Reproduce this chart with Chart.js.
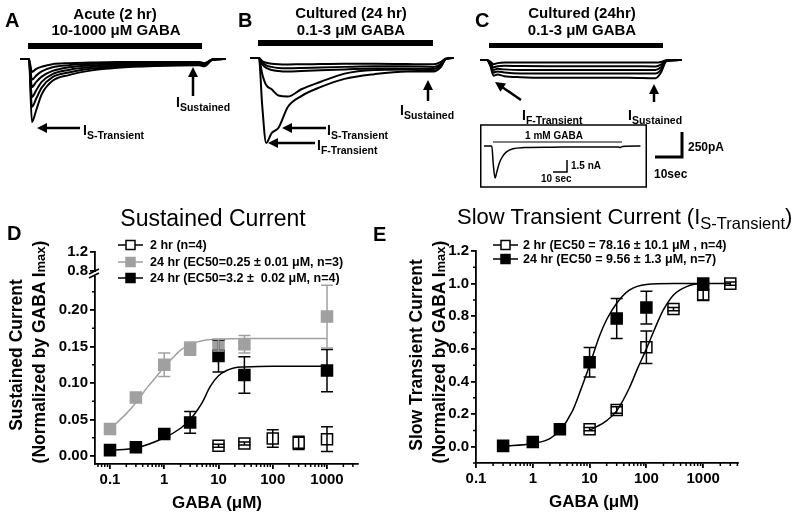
<!DOCTYPE html>
<html>
<head>
<meta charset="utf-8">
<script src="https://cdn.jsdelivr.net/npm/chart.js@4.4.0/dist/chart.umd.min.js"></script>
<style>
body { margin: 0; background: #fff; }
#fig { position: relative; width: 800px; height: 518px; overflow: hidden; background: #fff;
       font-family: "Liberation Sans", Arial, sans-serif; color: #000; }
#fig canvas, #fig svg { position: absolute; }
.t { position: absolute; white-space: pre; line-height: 1; font-weight: bold; }
.c { transform: translate(-50%, -50%); }
.l { transform: translateY(-50%); }
.v { transform: translate(-50%, -50%) rotate(-90deg); }
.lab { font-size: 14px; }
.lab sub { font-size: 10.5px; vertical-align: -4px; }
</style>
</head>
<body>
<div id="fig">
  <canvas id="trA" width="206" height="80" style="left:20px;top:50px"></canvas>
  <canvas id="trB" width="204" height="100" style="left:250px;top:50px"></canvas>
  <canvas id="trC" width="202" height="40" style="left:480px;top:50px"></canvas>
  <canvas id="trInset" width="160" height="45" style="left:482px;top:138px"></canvas>
  <canvas id="chartD" width="375" height="278" style="left:0px;top:240px"></canvas>
  <canvas id="chartE" width="400" height="283" style="left:400px;top:235px"></canvas>

  <svg width="800" height="518" style="left:0;top:0">
    <!-- drug application bars -->
    <rect x="28" y="43" width="174" height="6" fill="#000"/>
    <rect x="258" y="40" width="175" height="6" fill="#000"/>
    <rect x="489" y="43" width="174" height="5" fill="#000"/>
    <g stroke="#000" stroke-width="2.5" fill="none">
      <line x1="46" y1="128" x2="80" y2="128"/>
      <line x1="193" y1="76" x2="193" y2="96"/>
      <line x1="291" y1="128" x2="326" y2="128"/>
      <line x1="277" y1="143" x2="315" y2="143"/>
      <line x1="428" y1="89" x2="428" y2="101"/>
      <line x1="502" y1="87" x2="521" y2="100"/>
      <line x1="654" y1="93" x2="654" y2="102"/>
    </g>
    <g fill="#000">
      <polygon points="37,128 47,123 47,133"/>
      <polygon points="193,67 188,77 198,77"/>
      <polygon points="282,128 292,123 292,133"/>
      <polygon points="268,143 278,138 278,148"/>
      <polygon points="428,80 423,90 433,90"/>
      <polygon points="495,82 506.1,83.6 500.4,91.8"/>
      <polygon points="654,84 649,94 659,94"/>
    </g>
    <!-- scale bars and inset -->
    <polyline points="655,157 682,157 682,132" stroke="#000" stroke-width="3" fill="none"/>
    <rect x="480.75" y="125" width="165.5" height="62" stroke="#000" stroke-width="1.5" fill="none"/>
    <line x1="493" y1="142" x2="622" y2="142" stroke="#000" stroke-width="1.2"/>
    <polyline points="553,172 567,172 567,160" stroke="#000" stroke-width="1.5" fill="none"/>
    <!-- legend icons -->
    <line x1="118" y1="245" x2="143" y2="245" stroke="#000" stroke-width="1.5"/>
    <rect x="126" y="240.5" width="9" height="9" fill="#fff" stroke="#000" stroke-width="1.5"/>
    <line x1="118" y1="262" x2="143" y2="262" stroke="#a0a0a0" stroke-width="1.5"/>
    <rect x="126" y="257.5" width="9" height="9" fill="#a0a0a0" stroke="#a0a0a0" stroke-width="1.5"/>
    <line x1="118" y1="278" x2="143" y2="278" stroke="#000" stroke-width="1.5"/>
    <rect x="126" y="273.5" width="9" height="9" fill="#000" stroke="#000" stroke-width="1.5"/>
    <line x1="493" y1="245" x2="518" y2="245" stroke="#000" stroke-width="1.5"/>
    <rect x="501" y="240.5" width="9" height="9" fill="#fff" stroke="#000" stroke-width="1.5"/>
    <line x1="493" y1="259" x2="518" y2="259" stroke="#000" stroke-width="1.5"/>
    <rect x="501" y="254.5" width="9" height="9" fill="#000" stroke="#000" stroke-width="1.5"/>
  </svg>

  <!-- top panels text -->
  <div class="t l" style="left:5px;top:20px;font-size:20px">A</div>
  <div class="t l" style="left:238px;top:20px;font-size:20px">B</div>
  <div class="t l" style="left:475px;top:20px;font-size:20px">C</div>
  <div class="t c" style="left:115px;top:12.5px;font-size:15px">Acute (2 hr)</div>
  <div class="t c" style="left:116px;top:29px;font-size:15px">10-1000 μM GABA</div>
  <div class="t c" style="left:351px;top:12px;font-size:15px">Cultured (24 hr)</div>
  <div class="t c" style="left:351px;top:29px;font-size:15px">0.1-3 μM GABA</div>
  <div class="t c" style="left:582px;top:12px;font-size:15px">Cultured (24hr)</div>
  <div class="t c" style="left:582px;top:29px;font-size:15px">0.1-3 μM GABA</div>

  <div class="t lab" style="left:83px;top:123px">I<sub>S-Transient</sub></div>
  <div class="t lab" style="left:176px;top:95px">I<sub>Sustained</sub></div>
  <div class="t lab" style="left:327px;top:123px">I<sub>S-Transient</sub></div>
  <div class="t lab" style="left:317px;top:138px">I<sub>F-Transient</sub></div>
  <div class="t lab" style="left:400px;top:103px">I<sub>Sustained</sub></div>
  <div class="t lab" style="left:522px;top:108px">I<sub>F-Transient</sub></div>
  <div class="t lab" style="left:628px;top:108px">I<sub>Sustained</sub></div>

  <div class="t l" style="left:688px;top:147px;font-size:12px">250pA</div>
  <div class="t l" style="left:654px;top:174px;font-size:12px">10sec</div>
  <div class="t c" style="left:554px;top:136px;font-size:10px">1 mM GABA</div>
  <div class="t l" style="left:571px;top:165.5px;font-size:10px">1.5 nA</div>
  <div class="t l" style="left:541px;top:179px;font-size:10px">10 sec</div>

  <!-- bottom panels text -->
  <div class="t l" style="left:7px;top:233px;font-size:20px">D</div>
  <div class="t l" style="left:373px;top:234px;font-size:20px">E</div>
  <div class="t c" style="left:213px;top:218px;font-size:23px;font-weight:normal">Sustained Current</div>
  <div class="t l" style="left:457px;top:219px;font-size:22px;font-weight:normal">Slow Transient Current (I<sub style="font-size:0.75em;vertical-align:-0.3em">S-Transient</sub>)</div>

  <div class="t v" style="left:17px;top:355px;font-size:17.5px">Sustained Current</div>
  <div class="t v" style="left:40px;top:352px;font-size:17.5px">(Normalized by GABA I<span style="font-size:13px">max</span>)</div>
  <div class="t v" style="left:417px;top:355px;font-size:17.5px">Slow Transient Current</div>
  <div class="t v" style="left:440px;top:352px;font-size:17.5px">(Normalized by GABA I<span style="font-size:13px">max</span>)</div>
  <div class="t c" style="left:217px;top:502px;font-size:17px">GABA (μM)</div>
  <div class="t c" style="left:594px;top:501px;font-size:17px">GABA (μM)</div>

  <div class="t l" style="left:150px;top:245px;font-size:12.5px">2 hr (n=4)</div>
  <div class="t l" style="left:150px;top:262px;font-size:12.5px">24 hr (EC50=0.25 ± 0.01 μM, n=3)</div>
  <div class="t l" style="left:150px;top:278px;font-size:12.5px">24 hr (EC50=3.2 ±  0.02 μM, n=4)</div>
  <div class="t l" style="left:523px;top:245px;font-size:12.5px">2 hr (EC50 = 78.16 ± 10.1 μM , n=4)</div>
  <div class="t l" style="left:523px;top:259px;font-size:12.5px">24 hr (EC50 = 9.56 ± 1.3 μM, n=7)</div>
</div>

<script>
const FONT = '"Liberation Sans", Arial, sans-serif';
const GRAY = "#a0a0a0";

const tA = [0, 3.3, 4.4, 6, 8, 12, 18, 26, 36, 50, 66, 68, 71, 76];
const traceA1 = [0, 0, -125, -95, -75, -50, -40, -35, -30, -28, -28, -40, -5, 0];
const traceA2 = [0, 0, -200, -160, -120, -80, -60, -48, -40, -35, -33, -45, -5, 0];
const traceA3 = [0, 0, -270, -220, -170, -115, -80, -62, -50, -42, -38, -50, -6, 0];
const traceA4 = [0, 0, -365, -300, -220, -145, -105, -78, -62, -50, -45, -55, -6, 0];
const traceA5 = [0, 0, -460, -380, -275, -175, -130, -95, -72, -58, -52, -62, -7, 0];
const traceA6 = [0, 0, -605, -490, -340, -210, -155, -112, -85, -68, -60, -70, -8, 0];

const tB = [0, 3.3, 4.5, 6, 8, 10.5, 14, 19, 26, 35, 46, 58, 68, 70.5, 72.5, 75.5];
const traceB1 = [0, 0, -30, -45, -55, -60, -62, -60, -58, -55, -55, -58, -60, -40, -5, 0];
const traceB2 = [0, 0, -40, -70, -85, -95, -97, -95, -90, -85, -80, -80, -85, -60, -8, 0];
const traceB3 = [0, 0, -60, -95, -115, -125, -130, -125, -118, -110, -100, -100, -105, -70, -10, 0];
const traceB4 = [0, 0, -150, -260, -300, -360, -370, -300, -230, -150, -115, -110, -125, -85, -10, 0];
const traceB5 = [0, 0, -450, -816, -720, -672, -470, -365, -280, -200, -155, -130, -130, -90, -10, 0];

const tC = [0, 2.5, 3.8, 5, 6.5, 9, 15, 25, 40, 55, 65, 67, 69, 74.8];
const traceC1 = [0, 0, -15, -40, -30, -25, -25, -25, -25, -25, -25, -20, -3, 0];
const traceC2 = [0, 0, -25, -70, -60, -55, -58, -60, -60, -60, -62, -45, -5, 0];
const traceC3 = [0, 0, -35, -95, -85, -90, -95, -95, -95, -95, -95, -70, -8, 0];
const traceC4 = [0, 0, -45, -120, -110, -120, -130, -130, -130, -130, -130, -95, -10, 0];
const traceC5 = [0, 0, -55, -150, -140, -155, -165, -170, -170, -170, -175, -120, -12, 0];

// inset, 1 mM GABA (nA)
const tInset = [1.4, 7, 8, 9.3, 10.5, 12, 14, 17, 22, 30, 50, 80, 97, 98.5, 100, 112.9];
const traceInset = [0, 0, -2.2, -4.0, -3.3, -2.3, -1.5, -0.8, -0.35, -0.2, -0.15, -0.12, -0.12, -0.2, -0.05, 0];

// D: sustained current (GABA uM vs normalized current)
const d2hX = [10, 30, 100, 300, 1000];
const d2hY = [0.014, 0.017, 0.024, 0.018, 0.023];
const d2hErr = [0.002, 0.002, 0.012, 0.009, 0.017];
const d24aX = [0.1, 0.3, 1, 3, 10, 30, 1000];
const d24aY = [0.037, 0.080, 0.125, 0.147, 0.152, 0.153, 0.191];
const d24aErr = [0.003, 0.004, 0.016, 0.009, 0.008, 0.012, 0.043];
const d24bX = [0.1, 0.3, 1, 3, 10, 30, 1000];
const d24bY = [0.008, 0.012, 0.030, 0.046, 0.137, 0.111, 0.117];
const d24bErr = [0.002, 0.003, 0.004, 0.015, 0.022, 0.025, 0.029];
// fitted curves as drawn in D
const fitAX = [0.1, 0.2, 0.3, 0.5, 0.7, 1, 1.5, 2, 3, 5, 10, 30, 100, 1000];
const fitAY = [0.037, 0.058, 0.073, 0.095, 0.108, 0.122, 0.136, 0.145, 0.153, 0.158, 0.160, 0.161, 0.161, 0.161];
const fitBX = [0.1, 0.3, 1, 2, 3, 4, 5, 7, 10, 15, 20, 30, 100, 1000];
const fitBY = [0.008, 0.011, 0.025, 0.038, 0.050, 0.062, 0.073, 0.095, 0.110, 0.118, 0.121, 0.122, 0.123, 0.123];

// E: slow transient current
const e2hX = [10, 30, 100, 300, 1000, 3000];
const e2hY = [0.107, 0.225, 0.61, 0.844, 0.93, 1.0];
const e2hErr = [0.01, 0.02, 0.10, 0.01, 0.03, 0.01];
const e24X = [0.3, 1, 3, 10, 30, 100, 1000];
const e24Y = [0.005, 0.029, 0.107, 0.518, 0.786, 0.853, 1.0];
const e24Err = [0.005, 0.008, 0.01, 0.09, 0.122, 0.10, 0.01];
// fitted curves as drawn in E
const fitE2X = [10, 20, 30, 50, 70, 100, 170, 200, 300, 500, 1000, 3000];
const fitE2Y = [0.1, 0.16, 0.22, 0.36, 0.48, 0.6, 0.79, 0.84, 0.93, 0.98, 1.0, 1.0];
const fitE24X = [0.3, 1, 2, 3, 5, 7, 10, 15, 20, 30, 50, 100, 300, 1000];
const fitE24Y = [0.003, 0.02, 0.05, 0.1, 0.22, 0.35, 0.5, 0.68, 0.78, 0.88, 0.96, 0.995, 1.0, 1.0];

// tick labels
const logTicks = [0.1, 1, 10, 100, 1000];
const dTicks = [0, 0.05, 0.10, 0.15, 0.20];
const dTopTicks = [0.8, 1.2];
const eTicks = [0, 0.2, 0.4, 0.6, 0.8, 1.0, 1.2];
const dMinor = [0.025, 0.075, 0.125, 0.175, 0.225];
const eMinor = [-0.1, 0.1, 0.3, 0.5, 0.7, 0.9, 1.1];
const logMinor = [];
[0.01, 0.1, 1, 10, 100, 1000].forEach(d => {
  for (let m = 2; m <= 9; m++) logMinor.push(m * d);
});

function pts(xs, ys) {
  return xs.map((x, i) => ({ x: x, y: ys[i] }));
}

// one small line chart per trace panel, axes hidden
function traceChart(id, t, traces, xMax, yMin, yMax, lw) {
  new Chart(document.getElementById(id), {
    type: "line",
    data: {
      datasets: traces.map(v => ({
        data: pts(t, v),
        borderColor: "#000",
        borderWidth: lw,
        pointRadius: 0,
        cubicInterpolationMode: "monotone",
      })),
    },
    options: {
      responsive: false,
      animation: false,
      events: [],
      layout: { padding: 0 },
      plugins: { legend: { display: false }, tooltip: { enabled: false } },
      scales: {
        x: { type: "linear", display: false, min: 0, max: xMax },
        y: { display: false, min: yMin, max: yMax },
      },
    },
  });
}

traceChart("trA", tA, [traceA1, traceA2, traceA3, traceA4, traceA5, traceA6], 76, -682, 86, 2);
traceChart("trB", tB, [traceB1, traceB2, traceB3, traceB4, traceB5], 75.5, -883, 77, 2);
traceChart("trC", tC, [traceC1, traceC2, traceC3, traceC4, traceC5], 74.8, -288, 96, 2);
traceChart("trInset", tInset, [traceInset], 114, -4.625, 1.0, 1.5);

// error bars drawn over the markers
const errorBars = {
  id: "errorBars",
  afterDatasetsDraw(chart) {
    const ctx = chart.ctx;
    chart.data.datasets.forEach((ds, i) => {
      if (!ds.err) return;
      const meta = chart.getDatasetMeta(i);
      const ys = meta.yScale;
      ctx.save();
      ctx.strokeStyle = ds.borderColor;
      ctx.lineWidth = 1.5;
      ctx.beginPath();
      meta.data.forEach((p, j) => {
        const e = ds.err[j];
        const v = ds.data[j].y;
        const top = ys.getPixelForValue(v + e);
        const bot = ys.getPixelForValue(v - e);
        ctx.moveTo(p.x, top); ctx.lineTo(p.x, bot);
        ctx.moveTo(p.x - 6, top); ctx.lineTo(p.x + 6, top);
        ctx.moveTo(p.x - 6, bot); ctx.lineTo(p.x + 6, bot);
      });
      ctx.stroke();
      ctx.restore();
    });
  },
};

// short minor tick marks
const minorTicks = {
  id: "minorTicks",
  afterDraw(chart, args, opts) {
    const ctx = chart.ctx;
    ctx.save();
    ctx.strokeStyle = "#000";
    ctx.lineWidth = 1.5;
    ctx.beginPath();
    Object.keys(opts).forEach(id => {
      const s = chart.scales[id];
      if (!s || !Array.isArray(opts[id])) return;
      opts[id].forEach(v => {
        if (v < s.min || v > s.max) return;
        const p = s.getPixelForValue(v);
        if (s.isHorizontal()) { ctx.moveTo(p, s.top); ctx.lineTo(p, s.top + 3); }
        else { ctx.moveTo(s.right, p); ctx.lineTo(s.right - 3, p); }
      });
    });
    ctx.stroke();
    ctx.restore();
  },
};

// break mark between the two y segments in D
const axisBreak = {
  id: "axisBreak",
  afterDraw(chart) {
    const s = chart.scales.y;
    const ctx = chart.ctx;
    const x = s.right, y = s.top;
    ctx.save();
    ctx.fillStyle = "#fff";
    ctx.fillRect(x - 2, y - 4, 4, 4);
    ctx.strokeStyle = "#000";
    ctx.lineWidth = 1.5;
    ctx.beginPath();
    ctx.moveTo(x - 6, y - 2); ctx.lineTo(x + 4, y - 7);
    ctx.moveTo(x - 6, y + 2); ctx.lineTo(x + 4, y - 3);
    ctx.stroke();
    ctx.restore();
  },
};

function squares(xs, ys, err, line, fill) {
  return {
    type: "line", data: pts(xs, ys), err: err, showLine: false,
    pointStyle: "rect", pointRadius: 7.8, pointBorderWidth: 1.5,
    borderColor: line, backgroundColor: fill, yAxisID: "y",
  };
}
function fitLine(xs, ys, color) {
  return {
    type: "line", data: pts(xs, ys), borderColor: color, borderWidth: 1.5,
    pointRadius: 0, cubicInterpolationMode: "monotone", fill: false, yAxisID: "y",
  };
}

function axis(extra) {
  return Object.assign({
    grid: { display: true, drawOnChartArea: false, drawTicks: true, tickLength: 5, color: "#000", lineWidth: 1.8 },
    border: { display: true, color: "#000", width: 1.8 },
    ticks: { font: { family: FONT, size: 15, weight: "bold" }, color: "#000", padding: 2, autoSkip: false, maxRotation: 0 },
  }, extra);
}
function setTicks(list) {
  return s => { s.ticks = list.map(v => ({ value: v })); };
}

const common = {
  responsive: false,
  animation: false,
  events: [],
};

// panel D
new Chart(document.getElementById("chartD"), {
  type: "line",
  data: {
    datasets: [
      squares(d24bX, d24bY, d24bErr, "#000", "#000"),
      squares(d2hX, d2hY, d2hErr, "#000", "rgba(255,255,255,0)"),
      squares(d24aX, d24aY, d24aErr, GRAY, GRAY),
      fitLine(fitBX, fitBY, "#000"),
      fitLine(fitAX, fitAY, GRAY),
    ],
  },
  plugins: [errorBars, minorTicks, axisBreak],
  options: Object.assign({}, common, {
    layout: { padding: { top: 12, right: 17, left: 0, bottom: 0 } },
    plugins: {
      legend: { display: false }, tooltip: { enabled: false },
      minorTicks: { x: logMinor, y: dMinor },
    },
    scales: {
      x: axis({
        type: "logarithmic", min: 0.0529, max: 3726,
        afterBuildTicks: setTicks(logTicks),
        afterFit: s => { s.height = 54; },
      }),
      y: axis({
        type: "linear", position: "left", stack: "ys", stackWeight: 188,
        min: -0.011, max: 0.2466,
        afterBuildTicks: setTicks(dTicks),
        afterFit: s => { s.width = 95; },
      }),
      yTop: axis({
        type: "linear", position: "left", stack: "ys", stackWeight: 24,
        min: 0.695, max: 1.2,
        afterBuildTicks: setTicks(dTopTicks),
        afterFit: s => { s.width = 95; },
      }),
    },
  }),
});
const chD = Chart.getChart("chartD");
chD.options.scales.x.ticks.callback = v => String(v);
chD.options.scales.y.ticks.callback = v => v.toFixed(2);
chD.options.scales.yTop.ticks.callback = v => v.toFixed(1);
chD.update();

// panel E
new Chart(document.getElementById("chartE"), {
  type: "line",
  data: {
    datasets: [
      squares(e24X, e24Y, e24Err, "#000", "#000"),
      squares(e2hX, e2hY, e2hErr, "#000", "rgba(255,255,255,0)"),
      fitLine(fitE24X, fitE24Y, "#000"),
      fitLine(fitE2X, fitE2Y, "#000"),
    ],
  },
  plugins: [errorBars, minorTicks],
  options: Object.assign({}, common, {
    layout: { padding: { top: 16, right: 62, left: 0, bottom: 0 } },
    plugins: {
      legend: { display: false }, tooltip: { enabled: false },
      minorTicks: { x: logMinor, y: eMinor },
    },
    scales: {
      x: axis({
        type: "logarithmic", min: 0.1, max: 4100,
        afterBuildTicks: setTicks(logTicks),
        afterFit: s => { s.height = 55; },
      }),
      y: axis({
        type: "linear", position: "left", min: -0.1, max: 1.2,
        afterBuildTicks: setTicks(eTicks),
        afterFit: s => { s.width = 76; },
      }),
    },
  }),
});
const chE = Chart.getChart("chartE");
chE.options.scales.x.ticks.callback = v => String(v);
chE.options.scales.y.ticks.callback = v => v.toFixed(1);
chE.update();
</script>
</body>
</html>
